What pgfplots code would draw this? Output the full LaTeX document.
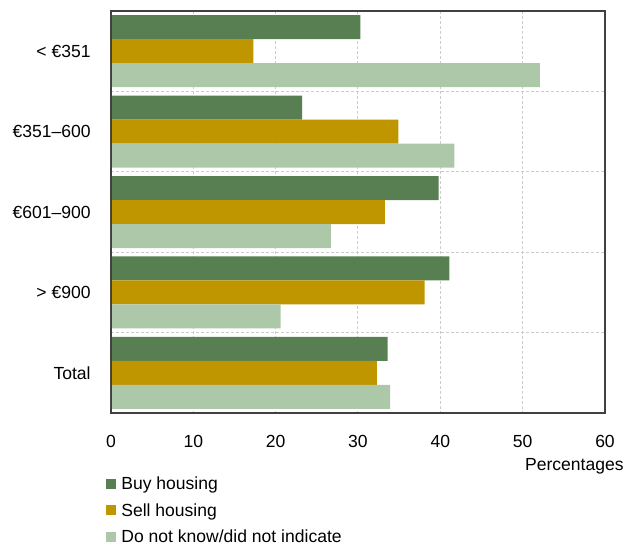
\documentclass[border=0pt]{standalone}
\usepackage{fontspec}
\setmainfont{Liberation Sans}
\usepackage{pgfplots}
\pgfplotsset{compat=1.18}
\definecolor{cbuy}{HTML}{587F52}
\definecolor{csell}{HTML}{C09600}
\definecolor{cdk}{HTML}{ADC8A8}
\begin{document}
\begin{tikzpicture}
\useasboundingbox (-55.5bp,-67bp) rectangle (260.5bp,206.5bp);
\begin{axis}[
  at={(0,0)}, anchor=south west,
  scale only axis, width=247bp, height=201bp,
  xmin=0, xmax=60, ymin=-0.5, ymax=4.5, y dir=reverse,
  xtick={0,10,...,60}, ytick={0,1,2,3,4},
  yticklabels={{< €351},{€351–600},{€601–900},{> €900},{Total}},
  minor ytick={0.5,1.5,2.5,3.5},
  xmajorgrids, yminorgrids,
  major grid style={dash pattern=on 1.5bp off 1bp, color=black!20, line width=0.5bp},
  minor grid style={dash pattern=on 1.5bp off 1bp, color=black!20, line width=0.5bp},
  major tick length=0pt, minor tick length=0pt,
  tick style={draw=none},
  axis line style={black!75, line width=0.6bp},
  font=\fontsize{8.8}{10.5}\selectfont,
  /pgf/number format/assume math mode=true,
  xticklabel style={inner sep=0pt, anchor=north, yshift=-10.9bp},
  yticklabel style={inner sep=0pt, anchor=east, xshift=-10bp},
  xlabel={Percentages},
  xlabel style={at={(axis description cs:1,0)}, anchor=east, inner sep=0pt, xshift=9.5bp, yshift=-26.5bp},
  bar width=0.2985,
  legend style={at={(axis description cs:0,0)}, anchor=north west, xshift=-2.5bp, yshift=-31.7bp,
    draw=none, fill=none, inner sep=0pt, row sep=4.75bp, column sep=2.5bp,
    nodes={inner sep=0pt, text height=6.5bp, text depth=2bp, anchor=west}},
  legend cell align=left,
  legend image code/.code={\fill[#1] (0bp,-1.6bp) rectangle (5bp,3.4bp);},
]
\addplot[xbar, bar shift=0pt, fill=cbuy, draw=none] coordinates {(30.3,-0.2985) (23.2,0.7015) (39.8,1.7015) (41.1,2.7015) (33.6,3.7015)};
\addplot[xbar, bar shift=0pt, fill=csell, draw=none] coordinates {(17.3,0) (34.9,1) (33.25,2) (38.1,3) (32.3,4)};
\addplot[xbar, bar shift=0pt, fill=cdk, draw=none] coordinates {(52.1,0.2985) (41.7,1.2985) (26.7,2.2985) (20.6,3.2985) (33.9,4.2985)};
\legend{Buy housing, Sell housing, Do not know/did not indicate}
\draw[black!75, line width=0.6bp] (rel axis cs:0,0) rectangle (rel axis cs:1,1);
\end{axis}
\end{tikzpicture}
\end{document}
